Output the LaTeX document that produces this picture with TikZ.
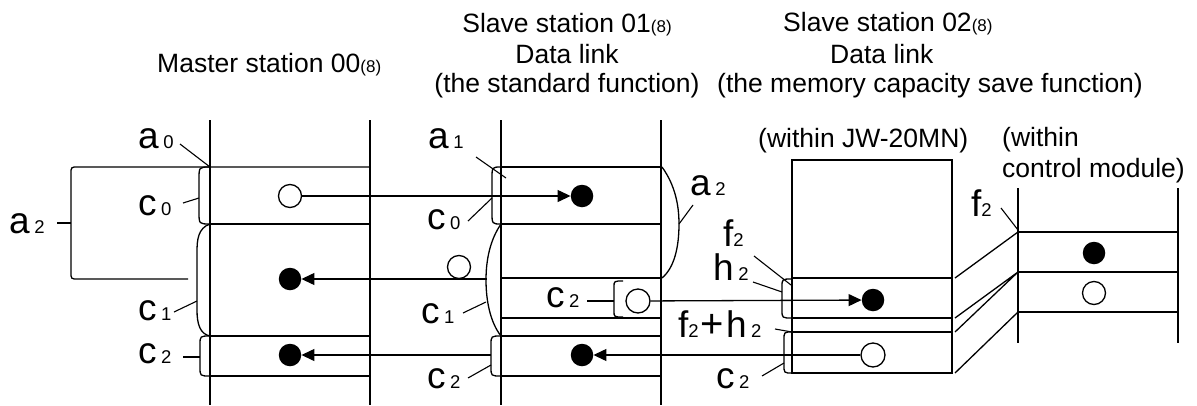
\documentclass[tikz,border=0pt]{standalone}
\usepackage{fontspec}
\setmainfont{Liberation Sans}
\usetikzlibrary{arrows.meta}
\newcommand\Lbl[2]{{\fontsize{37}{37}\selectfont #1}\kern4.5pt{\fontsize{18.5}{18.5}\selectfont #2}}
\newcommand\Fl[1]{{\fontsize{37}{37}\selectfont f}{\fontsize{18.5}{18.5}\selectfont #1}}
\newcommand\Oct{{\fontsize{17}{17}\selectfont(8)}}
\newcommand\LBrace[5]{\draw[ln] (#1,#3) .. controls (#2,#3) .. (#2,{#3+#5}) -- (#2,{#4-#5}) .. controls (#2,#4) .. (#1,#4);}
\begin{document}
\begin{tikzpicture}[x=1pt,y=-1pt,
  ln/.style={line width=1.3pt},
  lead/.style={line width=1.1pt},
  ocirc/.style={circle,draw,line width=1.3pt,minimum size=23pt,inner sep=0pt},
  fcirc/.style={circle,fill=black,minimum size=22.5pt,inner sep=0pt},
  txt/.style={inner sep=0pt,anchor=base west,font=\fontsize{26.5}{30}\selectfont},
  lab/.style={inner sep=0pt,anchor=base west},
  arr/.style={line width=1.3pt,-{Triangle[length=13pt,width=12pt]}}]
\useasboundingbox (0,0) rectangle (1197,405);
% headings
\node[txt] (hm) at (157,72) {Master station 00\Oct};
\node[txt,anchor=base] (h1a) at (567,32) {Slave station 01\Oct};
\node[txt,anchor=base] (h1b) at (567,63) {Data link};
\node[txt,anchor=base] (h1c) at (567,92) {(the standard function)};
\node[txt] (h2a) at (783,31) {Slave station 02\Oct};
\node[txt] (h2b) at (830,63) {Data link};
\node[txt] (h2c) at (717,92) {(the memory capacity save function)};
\node[txt] (hjw) at (758,147) {(within JW-20MN)};
\node[txt] (hcm1) at (1002,146) {(within};
\node[txt] (hcm2) at (1002,177) {control module)};
% master column
\draw[ln] (210,120) -- (210,405) (370,120) -- (370,405);
\draw[ln] (210,224) -- (370,224) (210,336) -- (370,336) (210,376) -- (370,376);
\draw[ln] (370,167) -- (78,167) .. controls (71,167) .. (71,174) -- (71,272) .. controls (71,279) .. (78,279) -- (188,279);
\LBrace{210}{199}{167}{224}{12}
\draw[ln] (210,224) .. controls (198,228) and (197,240) .. (197,252) -- (197,310) .. controls (197,324) and (200,334) .. (210,336);
\LBrace{210}{200}{336}{376}{9}
% slave 01 column
\draw[ln] (501,120) -- (501,405) (661,120) -- (661,405);
\foreach \y in {167,224,278,318,336,376} \draw[ln] (501,\y) -- (661,\y);
\LBrace{501}{492}{167}{224}{12}
\draw[ln] (501,224) .. controls (490,240) and (486,260) .. (486,280) .. controls (486,300) and (490,322) .. (501,336);
\LBrace{501}{491}{336}{376}{9}
\LBrace{623}{614}{281}{317}{6}
\draw[ln] (662,167) .. controls (675,185) and (679,205) .. (679,224) .. controls (679,248) and (674,268) .. (662,278);
% slave 02 box
\draw[ln] (792,160) rectangle (952,373);
\foreach \y in {278,318,332} \draw[ln] (792,\y) -- (952,\y);
\LBrace{792}{782}{279}{318}{8}
\LBrace{792}{784}{332}{373}{8}
% control module
\draw[ln] (1018,188) -- (1018,343) (1178,188) -- (1178,343);
\foreach \y in {232,272,312} \draw[ln] (1018,\y) -- (1178,\y);
\coordinate (k1) at (955,278); \coordinate (m1) at (1018,232);
\coordinate (k2) at (955,318); \coordinate (m2) at (1018,272);
\coordinate (k3) at (955,332);
\coordinate (k4) at (955,373); \coordinate (m4) at (1018,312);
\draw[ln] (k1) -- (m1) (k2) -- (m2) (k3) -- (m2) (k4) -- (m4);
% circles
\node[ocirc] (mo0) at (290,196) {};
\node[fcirc] (mf1) at (290,279) {};
\node[fcirc] (mf2) at (290,355) {};
\node[fcirc] (sf0) at (582,196) {};
\node[ocirc] (so1) at (459,267) {};
\node[ocirc,minimum size=24pt] (so2) at (638,301) {};
\node[fcirc] (sf2) at (582,355) {};
\node[fcirc] (tf) at (873,300) {};
\node[ocirc,minimum size=24pt] (to) at (873,355) {};
\node[fcirc] (cf) at (1094,253) {};
\node[ocirc] (co) at (1094,293) {};
% arrows
\coordinate (b1) at (487,279);
\coordinate (b2) at (491,355);
\draw[arr] (mo0) -- (sf0);
\draw[arr] (b1) -- (mf1);
\draw[arr] (so2) -- (tf);
\draw[arr] (to) -- (sf2);
\draw[arr] (b2) -- (mf2);
% labels
\node[lab] (la0) at (138,148) {\Lbl{a}{0}};
\node[lab] (lc0) at (138,215) {\Lbl{c}{0}};
\node[lab] (la2) at (9,233) {\Lbl{a}{2}};
\node[lab] (lc1) at (138,320) {\Lbl{c}{1}};
\node[lab] (lc2) at (138,363) {\Lbl{c}{2}};
\node[lab] (sa1) at (428,148) {\Lbl{a}{1}};
\node[lab] (sc0) at (427,229) {\Lbl{c}{0}};
\node[lab] (sc1) at (421,323) {\Lbl{c}{1}};
\node[lab] (sc2i) at (546,307) {\Lbl{c}{2}};
\node[lab] (sa2) at (690,195) {\Lbl{a}{2}};
\node[lab] (sc2) at (427,388) {\Lbl{c}{2}};
\node[lab] (tf2) at (723,246) {\Fl{2}};
\node[lab] (th2) at (713,280) {\Lbl{h}{2}};
\node[lab] (tfh) at (678,337) {\Fl{2}\kern2pt{\fontsize{40}{40}\selectfont +}\kern2pt\Lbl{h}{2}};
\node[lab] (tc2) at (716,388) {\Lbl{c}{2}};
\node[lab] (cf2) at (971,216) {\Fl{2}};
% leaders
\coordinate (e1) at (180,144); \coordinate (t1) at (210,167);
\coordinate (e2) at (183,203); \coordinate (t2) at (199,198);
\coordinate (e3) at (57,223);  \coordinate (t3) at (71,223);
\coordinate (e4) at (174,312); \coordinate (t4) at (197,301);
\coordinate (e5) at (183,357); \coordinate (t5) at (200,357);
\coordinate (e6) at (476,157); \coordinate (t6) at (506,178);
\coordinate (e7) at (468,221); \coordinate (t7) at (492,198);
\coordinate (e8) at (463,313); \coordinate (t8) at (486,302);
\coordinate (e9) at (587,301); \coordinate (t9) at (614,301);
\coordinate (e10) at (693,205); \coordinate (t10) at (679,224);
\coordinate (e11) at (468,378); \coordinate (t11) at (491,365);
\coordinate (e12) at (754,256); \coordinate (t12) at (791,285);
\coordinate (e13) at (753,282); \coordinate (t13) at (782,292);
\coordinate (e14) at (775,329); \coordinate (t14) at (792,332);
\coordinate (e15) at (762,376); \coordinate (t15) at (784,363);
\coordinate (e16) at (1001,208); \coordinate (t16) at (1018,230);
\foreach \i in {1,...,16} \draw[lead] (e\i) -- (t\i);
\end{tikzpicture}
\end{document}
